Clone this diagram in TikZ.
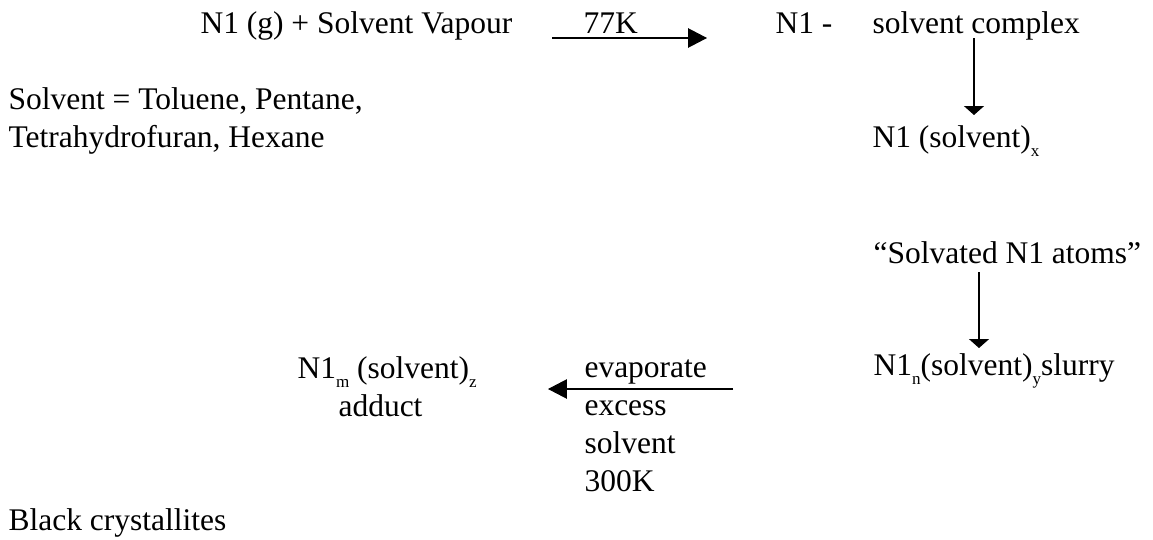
\documentclass[tikz,border=0pt]{standalone}
\usepackage{fontspec}
\setmainfont{Liberation Serif}
\usepackage{tikz}
\usetikzlibrary{arrows.meta}
\tikzstyle{scheme} = [x = 0.381pt, y = -0.381pt]
\tikzstyle{schemeText} = [anchor = base west, inner sep = 0pt, font = \fontsize{12}{14}\selectfont]
\tikzstyle{reactionArrow} = [thin, -{Triangle[length = 7.2pt, width = 7.4pt]}]
\tikzstyle{stepArrow} = [thin, -{Triangle[length = 3.4pt, width = 7.6pt]}]
\newcommand{\sub}[1]{\raisebox{-3.6pt}{\fontsize{6.5}{7}\selectfont #1}}
\newcommand{\schemeLabel}[4]{\node [schemeText] (#1) at (#2, #3) {#4};}

\begin{document}
\begin{tikzpicture}[scheme]
          \useasboundingbox (0, 0) rectangle (1153, 540);
          % top row
          \schemeLabel{gasMix}{200}{33}{N1 (g) + Solvent Vapour}
          \schemeLabel{coolTemp}{583}{33}{77K}
          \schemeLabel{metalDash}{775}{33}{N1 -}
          \schemeLabel{complex}{872}{33}{solvent complex}
          \schemeLabel{solventList}{8}{109}{Solvent = Toluene, Pentane,}
          \schemeLabel{solventListB}{8}{147}{Tetrahydrofuran, Hexane}
          \schemeLabel{solvated}{872}{147}{N1 (solvent)\sub{x}}
          \schemeLabel{atoms}{873}{263}{“Solvated N1 atoms”}
          % bottom row
          \schemeLabel{slurry}{873}{375}{N1\sub{n}(solvent)\sub{y}slurry}
          \schemeLabel{adduct}{297}{378}{N1\sub{m} (solvent)\sub{z}}
          \schemeLabel{adductName}{338}{416}{adduct}
          \schemeLabel{evapA}{584}{377}{evaporate}
          \schemeLabel{evapB}{584}{415}{excess}
          \schemeLabel{evapC}{584}{453}{solvent}
          \schemeLabel{evapD}{584}{491}{300K}
          \schemeLabel{crystals}{8}{530}{Black crystallites}

          \coordinate (coolStart) at (552, 38);
          \coordinate (coolEnd) at (707, 38);
          \coordinate (complexDown) at (974, 38);
          \coordinate (solvatedTop) at (974, 115);
          \coordinate (atomsDown) at (979, 272);
          \coordinate (slurryTop) at (979, 348);
          \coordinate (evapStart) at (733, 389);
          \coordinate (evapEnd) at (548, 389);
          \draw [reactionArrow] (coolStart) -- (coolEnd);
          \draw [stepArrow] (complexDown) -- (solvatedTop);
          \draw [stepArrow] (atomsDown) -- (slurryTop);
          \draw [reactionArrow] (evapStart) -- (evapEnd);
        \end{tikzpicture}
\end{document}
